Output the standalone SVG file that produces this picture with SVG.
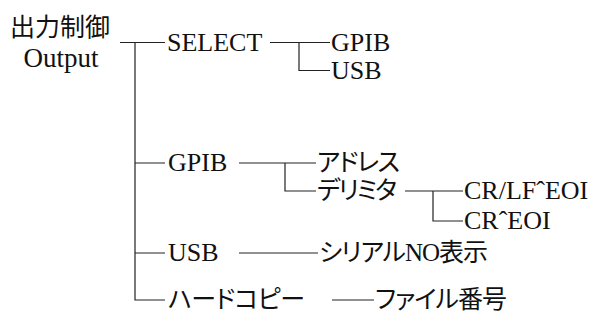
<svg xmlns="http://www.w3.org/2000/svg" width="599" height="323" viewBox="0 0 599 323">
<style>
text{font-family:'Liberation Serif','Noto Sans CJK JP',serif;font-size:26px;fill:#111}
.j{font-size:25px;font-feature-settings:"palt"}
.c path{fill:none;stroke:#222;stroke-width:1.2}
</style>
<rect width="599" height="323" fill="#fff"/>
<g class="c" id="connectors">
<path d="M120,42.5H165M135,42.5V300H165M135,163H165M135,253H165"/>
<path d="M270,42.5H330M299,42.5V70.5H330"/>
<path d="M239,163H316M285,163V191H316"/>
<path d="M405,191H463M433,191V221H463"/>
<path d="M239,253H318"/>
<path d="M332,300H374"/>
</g>
<g id="root"><text class="j" x="10" y="36" textLength="100" lengthAdjust="spacing">出力制御</text><text x="61" y="67" text-anchor="middle" style="font-size:27px">Output</text></g>
<g id="select"><text x="167" y="51">SELECT</text></g>
<g id="select-gpib"><text x="331" y="51">GPIB</text></g>
<g id="select-usb"><text x="331" y="79">USB</text></g>
<g id="gpib"><text x="168" y="171">GPIB</text></g>
<g id="address"><text class="j" x="317" y="171" textLength="83" lengthAdjust="spacing">アドレス</text></g>
<g id="delimiter"><text class="j" x="317" y="199" textLength="80" lengthAdjust="spacing">デリミタ</text></g>
<g id="crlf"><text x="464" y="199">CR/LFˆEOI</text></g>
<g id="cr"><text x="464" y="229">CRˆEOI</text></g>
<g id="usb"><text x="168" y="261">USB</text></g>
<g id="serial"><text class="j" x="319" y="261" textLength="169" lengthAdjust="spacing">シリアルNO表示</text></g>
<g id="hardcopy"><text class="j" x="168" y="308" textLength="137" lengthAdjust="spacing">ハードコピー</text></g>
<g id="file"><text class="j" x="375" y="308" textLength="132" lengthAdjust="spacing">ファイル番号</text></g>
</svg>
